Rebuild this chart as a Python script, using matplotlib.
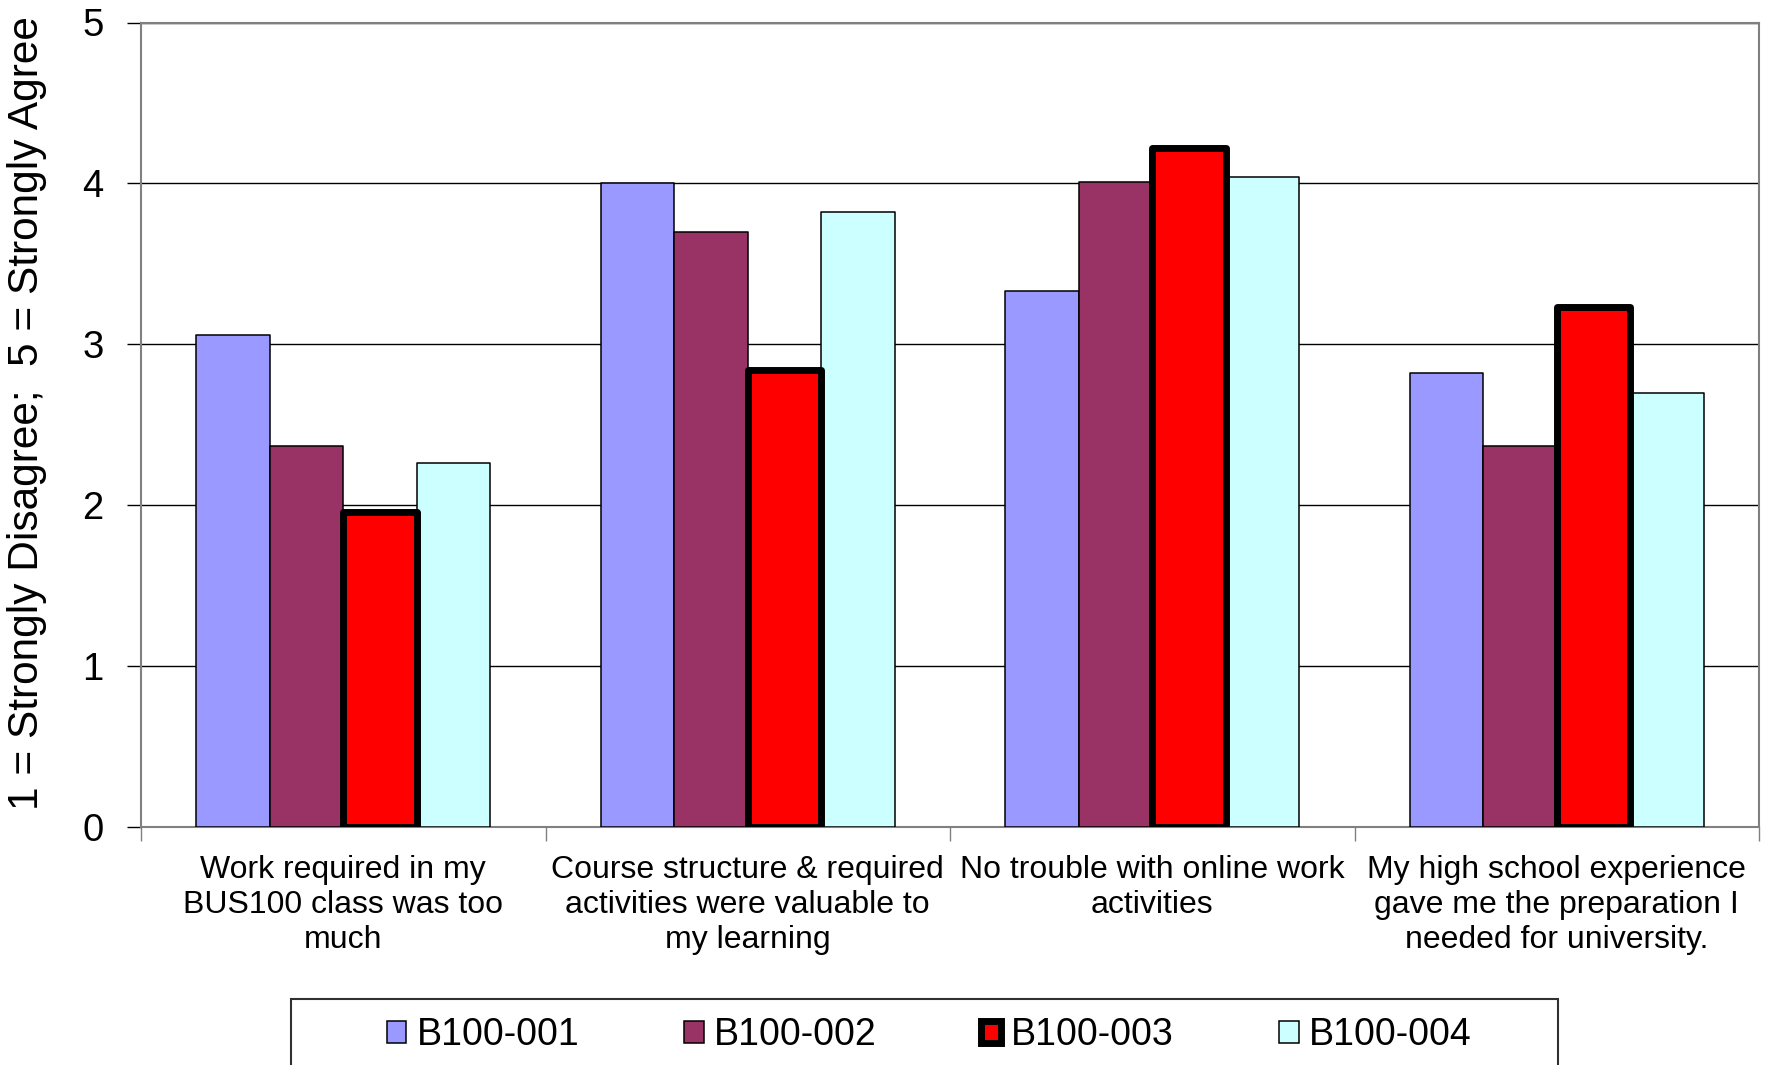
import numpy as np
import matplotlib
matplotlib.use("Agg")
import matplotlib.pyplot as plt
from matplotlib.patches import Rectangle
from matplotlib.ticker import FixedLocator

plt.rcParams["font.family"] = ["Liberation Sans", "DejaVu Sans"]

categories = [
    "Work required in my\nBUS100 class was too\nmuch",
    "Course structure & required\nactivities were valuable to\nmy learning",
    "No trouble with online work\nactivities",
    "My high school experience\ngave me the preparation I\nneeded for university.",
]
sections = ["B100-001", "B100-002", "B100-003", "B100-004"]
b100_001 = [3.06, 4.00, 3.33, 2.82]
b100_002 = [2.37, 3.70, 4.01, 2.37]
b100_003 = [1.96, 2.84, 4.22, 3.23]
b100_004 = [2.26, 3.82, 4.04, 2.70]
yticks = [0, 1, 2, 3, 4, 5]

series = [b100_001, b100_002, b100_003, b100_004]
colors = ["#9999FF", "#993366", "#FF0000", "#CCFFFF"]
edge_widths = [1.1, 1.1, 5.0, 1.1]

fig = plt.figure(figsize=(17.66, 10.65), dpi=100)
ax = fig.add_axes([141 / 1766, 1 - 827 / 1065, (1759 - 141) / 1766, (827 - 22.5) / 1065])

x = np.arange(len(categories))
width = 1 / 5.5
handles = []
for i, (vals, name) in enumerate(zip(series, sections)):
    bars = ax.bar(
        x + (i - 1.5) * width,
        vals,
        width,
        color=colors[i],
        edgecolor="black",
        linewidth=edge_widths[i],
        joinstyle="round",
        label=name,
        zorder=4 if i == 2 else 3,
    )
    handles.append(bars)

ax.set_xlim(-0.5, len(categories) - 0.5)
ax.set_ylim(0, 5)
ax.set_yticks(yticks)
ax.tick_params(axis="y", labelsize=27.5, length=10, width=1, pad=17, color="black")
ax.set_xticks(x)
ax.set_xticklabels(categories, fontsize=23, linespacing=1.22)
ax.tick_params(axis="x", which="major", length=0, pad=20)
ax.xaxis.set_minor_locator(FixedLocator(np.arange(-0.5, len(categories), 1.0)))
ax.tick_params(axis="x", which="minor", length=10, width=1, color="#808080")

ax.yaxis.grid(True, color="black", linewidth=1)
ax.set_axisbelow(True)
for side in ["top", "right", "left", "bottom"]:
    ax.spines[side].set_color("#808080")
    ax.spines[side].set_linewidth(1.5)

ax.set_ylabel("1 = Strongly Disagree;  5 = Strongly Agree", fontsize=30.5)
ax.yaxis.set_label_coords(-0.058, 0.514)

# legend box spans most of the width and runs off the bottom edge
fig.patches.append(Rectangle((291 / 1766, -0.05), (1558 - 291) / 1766, 0.05 + 1 - 999 / 1065,
                             transform=fig.transFigure, facecolor="white",
                             edgecolor="#303030", linewidth=1.5))
leg = fig.legend(
    handles=handles,
    loc="center",
    bbox_to_anchor=(929 / 1766, 1 - 1035 / 1065),
    ncol=4,
    frameon=False,
    fontsize=27,
    handlelength=0.53,
    handleheight=0.53,
    handletextpad=0.27,
    columnspacing=2.79,
)

fig.savefig("out.png", dpi=100)
